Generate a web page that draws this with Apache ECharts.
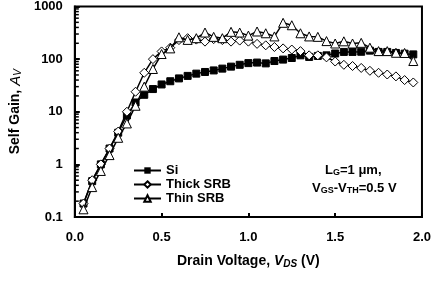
<!DOCTYPE html>
<html>
<head>
<meta charset="utf-8">
<script src="https://cdn.jsdelivr.net/npm/echarts@6/dist/echarts.min.js"></script>
<style>
  html, body { margin: 0; padding: 0; background: #fff; }
  #chart { width: 434px; height: 285px; }
</style>
</head>
<body>
<div id="chart"></div>
<script>
// drain voltage steps (V)
var vds = [0.05, 0.10, 0.15, 0.20, 0.25, 0.30, 0.35, 0.40, 0.45, 0.50,
  0.55, 0.60, 0.65, 0.70, 0.75, 0.80, 0.85, 0.90, 0.95, 1.00,
  1.05, 1.10, 1.15, 1.20, 1.25, 1.30, 1.35, 1.40, 1.45, 1.50,
  1.55, 1.60, 1.65, 1.70, 1.75, 1.80, 1.85, 1.90, 1.95]

// self gain values
var gainSi = [0.18, 0.48, 1.0, 2.0, 4.0, 8.5, 15, 21, 27, 33,
  38, 43, 48, 53, 57, 61, 66, 72, 78, 84,
  86, 83, 92, 98, 105, 118, 110, 115, 118, 128,
  137, 137, 138, 145, 137, 137, 131, 127, 123]
var gainThick = [0.18, 0.5, 1.0, 2.0, 4.2, 10, 24, 55, 100, 140,
  165, 230, 250, 235, 215, 240, 230, 215, 225, 215,
  195, 183, 170, 160, 152, 142, 118, 118, 108, 90,
  78, 74, 68, 60, 55, 51, 47, 40, 36]
var gainThin = [0.14, 0.37, 0.75, 1.5, 3.2, 6, 13, 30, 65, 125,
  160, 260, 232, 250, 320, 265, 250, 330, 320, 280,
  335, 310, 270, 490, 440, 310, 270, 265, 220, 198,
  218, 198, 204, 165, 142, 142, 132, 131, 92]

// log minor tick values
var minorTicks = []
;[0.1, 1, 10, 100].forEach(function (d) {
  for (var k = 2; k <= 9; k++) minorTicks.push(+(d * k).toPrecision(3))
})

function pairs(ys) {
  return vds.map(function (x, i) { return [x, ys[i]] })
}

var font = 'Liberation Sans, Arial, sans-serif'
var myChart = echarts.init(document.getElementById('chart'))

var option = {
  animation: false,
  backgroundColor: '#fff',
  grid: {
    left: 63, right: 11, top: 5, bottom: 68,
    show: true, borderColor: '#000', borderWidth: 2
  },
  legend: {
    orient: 'vertical',
    left: 128, top: 159,
    itemWidth: 27, itemHeight: 8, itemGap: 1,
    textStyle: { fontFamily: font, fontWeight: 'bold', fontSize: 13, color: '#000' },
    data: ['Si', 'Thick SRB', 'Thin SRB']
  },
  xAxis: {
    type: 'value',
    min: 0, max: 2, interval: 0.5,
    axisLine: { show: true, lineStyle: { color: '#000', width: 2 } },
    axisTick: { show: true, inside: true, length: 4, lineStyle: { color: '#000', width: 2 } },
    splitLine: { show: false },
    axisLabel: {
      margin: 14,
      fontFamily: font, fontWeight: 'bold', fontSize: 13, color: '#000',
      formatter: function (v) { return v.toFixed(1) }
    },
    name: '{n|Drain Voltage, }{i|V}{s|DS}{n| (V)}',
    nameLocation: 'middle',
    nameGap: 36,
    nameTextStyle: {
      rich: {
        n: { fontFamily: font, fontWeight: 'bold', fontSize: 14, color: '#000' },
        i: { fontFamily: font, fontWeight: 'bold', fontStyle: 'italic', fontSize: 14, color: '#000' },
        s: { fontFamily: font, fontWeight: 'bold', fontStyle: 'italic', fontSize: 10, color: '#000', padding: [6, 0, 0, 0] }
      }
    }
  },
  yAxis: {
    type: 'log',
    logBase: 10,
    min: 0.1, max: 1000,
    axisLine: { show: true, lineStyle: { color: '#000', width: 2 } },
    axisTick: { show: true, inside: true, length: 5, lineStyle: { color: '#000', width: 2 } },
    splitLine: { show: false },
    axisLabel: {
      margin: 12,
      fontFamily: font, fontWeight: 'bold', fontSize: 13, color: '#000',
      formatter: function (v) { return String(v) }
    },
    name: '{n|Self Gain, }{i|A}{s|V}',
    nameLocation: 'middle',
    nameGap: 49,
    nameTextStyle: {
      rich: {
        n: { fontFamily: font, fontWeight: 'bold', fontSize: 14, color: '#000' },
        i: { fontFamily: font, fontStyle: 'italic', fontSize: 15, color: '#000' },
        s: { fontFamily: font, fontStyle: 'italic', fontSize: 10, color: '#000', padding: [5, 0, 0, 0] }
      }
    }
  },
  graphic: [
    {
      type: 'text', left: 325, top: 164,
      style: {
        text: '{n|L}{s|G}{n|=1 μm,}',
        rich: {
          n: { fontFamily: font, fontWeight: 'bold', fontSize: 13, fill: '#000' },
          s: { fontFamily: font, fontWeight: 'bold', fontSize: 9, fill: '#000', padding: [5, 0, 0, 0] }
        }
      }
    },
    {
      type: 'text', left: 312, top: 182,
      style: {
        text: '{n|V}{s|GS}{n|-V}{s|TH}{n|=0.5 V}',
        rich: {
          n: { fontFamily: font, fontWeight: 'bold', fontSize: 13, fill: '#000' },
          s: { fontFamily: font, fontWeight: 'bold', fontSize: 9, fill: '#000', padding: [5, 0, 0, 0] }
        }
      }
    }
  ],
  series: [
    {
      name: 'Si', type: 'line',
      data: pairs(gainSi),
      symbol: 'rect', symbolSize: 7,
      lineStyle: { color: '#000', width: 1.5 },
      itemStyle: { color: '#000', borderColor: '#000' },
      z: 3
    },
    {
      name: 'Thick SRB', type: 'line',
      data: pairs(gainThick),
      symbol: 'diamond', symbolSize: 9,
      lineStyle: { color: '#000', width: 1.5 },
      itemStyle: { color: '#fff', borderColor: '#000', borderWidth: 1 },
      z: 4
    },
    {
      name: 'Thin SRB', type: 'line',
      data: pairs(gainThin),
      symbol: 'triangle', symbolSize: 9,
      lineStyle: { color: '#000', width: 1.5 },
      itemStyle: { color: '#fff', borderColor: '#000', borderWidth: 1 },
      z: 5
    },
    {
      // minor ticks on the log axis
      name: 'minor', type: 'custom',
      silent: true,
      data: minorTicks.map(function (v) { return [0, v] }),
      renderItem: function (params, api) {
        var p = api.coord([0, api.value(1)])
        return {
          type: 'line',
          shape: { x1: p[0], y1: p[1], x2: p[0] + 4, y2: p[1] },
          style: { stroke: '#000', lineWidth: 1.5 }
        }
      },
      z: 2
    }
  ]
}

myChart.setOption(option)
</script>
</body>
</html>
